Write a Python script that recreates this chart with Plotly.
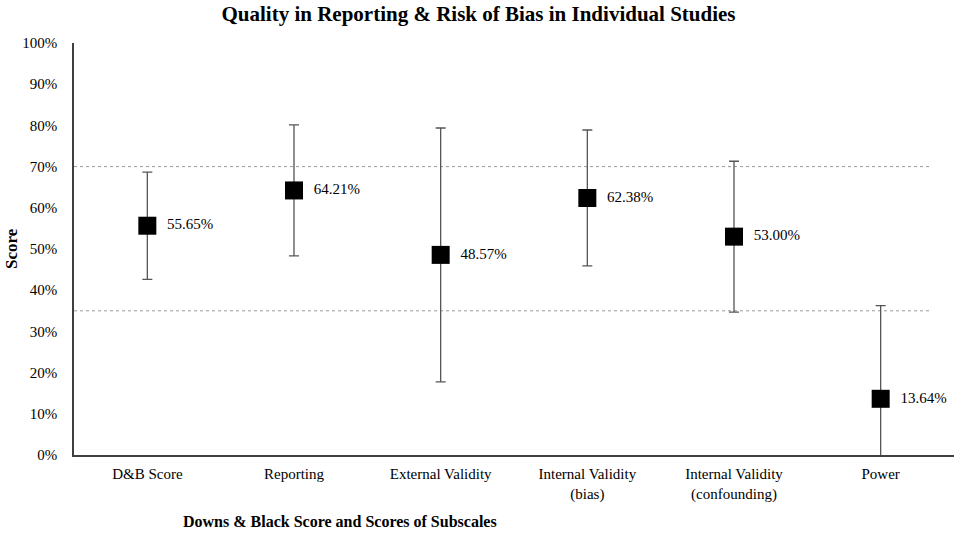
import plotly.graph_objects as go

categories = ["D&B Score", "Reporting", "External Validity", "Internal Validity<br>(bias)",
              "Internal Validity<br>(confounding)", "Power"]
means = [55.65, 64.21, 48.57, 62.38, 53.00, 13.64]
sds = [13.0, 15.9, 30.8, 16.5, 18.3, 22.6]
labels = ["55.65%", "64.21%", "48.57%", "62.38%", "53.00%", "13.64%"]
ref_lines = [70, 35]
y_ticks = list(range(0, 101, 10))

FONT = "'Liberation Serif', 'Times New Roman', serif"
W, H = 957, 533
L, R, T, B = 74, 3, 43, 78
PW = W - L - R
PH = H - T - B

fig = go.Figure()
fig.add_trace(go.Scatter(
    x=categories, y=means, mode="markers+text",
    marker=dict(symbol="square", size=18, color="black"),
    text=["  " + t for t in labels], textposition="middle right",
    textfont=dict(family=FONT, size=15, color="black"),
    error_y=dict(type="data", array=sds, visible=True, color="#555555", thickness=1.3, width=5),
    cliponaxis=True, showlegend=False, hoverinfo="skip",
))

for v in ref_lines:
    fig.add_shape(type="line", xref="paper", yref="y", x0=0, x1=(930 - L) / PW, y0=v, y1=v,
                  line=dict(color="#999999", width=1, dash="dot"), layer="below")

fig.update_layout(
    width=W, height=H,
    margin=dict(l=L, r=R, t=T, b=B, autoexpand=False),
    paper_bgcolor="white", plot_bgcolor="white",
    font=dict(family=FONT, size=15, color="black"),
    title=dict(text="<b>Quality in Reporting & Risk of Bias in Individual Studies</b>",
               x=0.5, xanchor="center", y=1 - 14 / H, yanchor="middle",
               font=dict(family=FONT, size=21, color="black")),
    xaxis=dict(type="category", range=[-0.5, 5.5], showgrid=False, showline=True,
               linecolor="#404040", linewidth=2, ticks="", tickfont=dict(family=FONT, size=15),
               ticklabelstandoff=4, automargin=False),
    yaxis=dict(range=[0, 100], tickvals=y_ticks, ticktext=[f"{t}%" for t in y_ticks],
               tickfont=dict(family=FONT, size=15),
               showgrid=False, showline=True, linecolor="#404040", linewidth=1.5,
               ticks="", ticklabelstandoff=12, zeroline=False, automargin=False),
    annotations=[
        dict(text="<b>Downs & Black Score and Scores of Subscales</b>",
             xref="paper", yref="paper", x=(340 - L) / PW, y=-(521 - (T + PH)) / PH,
             xanchor="center", yanchor="middle", showarrow=False,
             font=dict(family=FONT, size=16, color="black")),
        dict(text="<b>Score</b>", textangle=-90,
             xref="paper", yref="paper", x=-(L - 11) / PW, y=0.5,
             xanchor="center", yanchor="middle", showarrow=False,
             font=dict(family=FONT, size=17, color="black")),
    ],
)

fig.write_html("out.html", config={"displayModeBar": False},
               post_script="document.body.style.margin='0';document.body.style.padding='0';")
